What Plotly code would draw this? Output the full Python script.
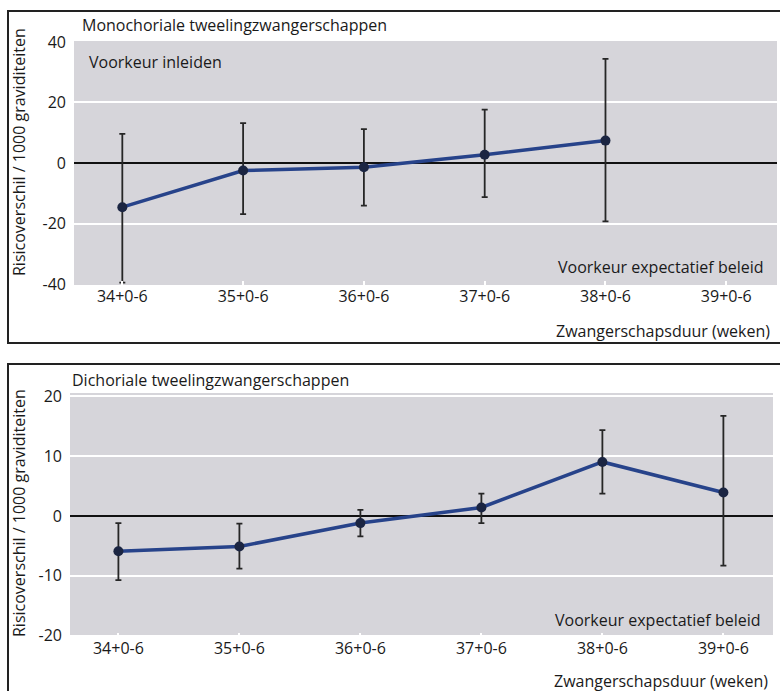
import plotly.graph_objects as go

# Gestational week categories (shared by both panels)
weeks = ["34+0-6", "35+0-6", "36+0-6", "37+0-6", "38+0-6", "39+0-6"]

# Monochorionic twins: risk difference per 1000 pregnancies with 95% CI
mono_mean = [-14.6, -2.5, -1.4, 2.7, 7.4]
mono_upper = [9.6, 13.2, 11.2, 17.6, 34.4]
mono_lower = [-39.5, -16.9, -14.1, -11.3, -19.3]
mono_ticks = [-40, -20, 0, 20, 40]

# Dichorionic twins
di_mean = [-5.9, -5.1, -1.2, 1.4, 9.0, 3.9]
di_upper = [-1.2, -1.3, 1.0, 3.7, 14.3, 16.7]
di_lower = [-10.7, -8.8, -3.4, -1.2, 3.7, -8.3]
di_ticks = [-20, -10, 0, 10, 20]

W, H = 780, 691
FONT = "Open Sans"
FS = 16
TXT = "#1a1a1a"
BG = "#d6d5da"
LINE = "#27438a"
MARK = "#1b2542"
ERR = "#262626"


def px(x):
    return x / W


def py(y):
    return 1 - y / H


fig = go.Figure()


def add_series(mean, upper, lower, xa, ya):
    pos = list(range(len(mean)))
    fig.add_trace(go.Scatter(
        x=pos, y=mean, xaxis=xa, yaxis=ya, mode="lines+markers",
        line=dict(color=LINE, width=3.5),
        marker=dict(color=MARK, size=10),
        error_y=dict(type="data", symmetric=False,
                     array=[u - m for u, m in zip(upper, mean)],
                     arrayminus=[m - l for m, l in zip(mean, lower)],
                     color=ERR, thickness=1.8, width=3),
        showlegend=False, hoverinfo="skip",
    ))


add_series(mono_mean, mono_upper, mono_lower, "x", "y")
add_series(di_mean, di_upper, di_lower, "x2", "y2")

xcommon = dict(
    tickvals=list(range(len(weeks))), ticktext=weeks,
    showgrid=False, zeroline=False, showline=False,
    ticks="inside", ticklen=4, tickcolor="white", tickwidth=2,
    tickfont=dict(family=FONT, size=FS, color=TXT),
    automargin=False, fixedrange=True,
)
ycommon = dict(
    showgrid=True, gridcolor="white", gridwidth=2,
    zeroline=True, zerolinecolor="#111", zerolinewidth=2,
    showline=False, ticks="",
    tickfont=dict(family=FONT, size=FS, color=TXT),
    ticklabelstandoff=7, automargin=False, fixedrange=True,
)

fig.update_layout(
    width=W, height=H,
    margin=dict(l=0, r=0, t=0, b=0, autoexpand=False),
    paper_bgcolor="white", plot_bgcolor=BG,
    xaxis=dict(domain=[px(74), px(777)], range=[-0.4, 5.42], anchor="y", **xcommon),
    yaxis=dict(domain=[py(285), py(41)], range=[-40.3, 40.3], anchor="x",
               tickvals=mono_ticks, ticktext=[str(t) for t in mono_ticks], **ycommon),
    xaxis2=dict(domain=[px(70), px(773)], range=[-0.4, 5.41], anchor="y2", **xcommon),
    yaxis2=dict(domain=[py(637), py(393)], range=[-20.2, 20.5], anchor="x2",
                tickvals=di_ticks, ticktext=[str(t) for t in di_ticks], **ycommon),
)

# Panel frames
fig.add_shape(type="rect", xref="paper", yref="paper",
              x0=px(8), x1=px(790), y0=py(343), y1=py(11),
              line=dict(color="#222", width=2), layer="above")
fig.add_shape(type="rect", xref="paper", yref="paper",
              x0=px(8), x1=px(790), y0=py(700), y1=py(364),
              line=dict(color="#222", width=2), layer="above")


def note(text, x, y, xanchor="left", angle=0):
    fig.add_annotation(text=text, x=px(x), y=py(y), xref="paper", yref="paper",
                       xanchor=xanchor, yanchor="middle", showarrow=False,
                       textangle=angle,
                       font=dict(family=FONT, size=FS, color=TXT))


ytitle = "Risicoverschil / 1000 graviditeiten"
xtitle = "Zwangerschapsduur (weken)"
pref = "Voorkeur expectatief beleid"

# Top panel labels
note("Monochoriale tweelingzwangerschappen", 80, 25)
note("Voorkeur inleiden", 87, 62)
note(pref, 766, 267, "right")
note(xtitle, 772, 331, "right")
note(ytitle, 19, 152, "center", -90)

# Bottom panel labels
note("Dichoriale tweelingzwangerschappen", 70, 380)
note(pref, 763, 620, "right")
note(xtitle, 770, 681, "right")
note(ytitle, 19, 513, "center", -90)

fig.write_html("out.html")
